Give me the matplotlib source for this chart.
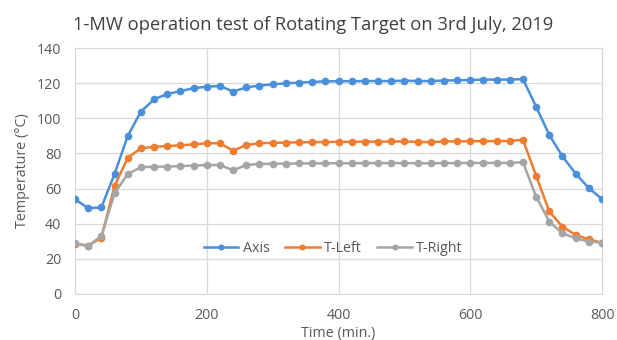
import numpy as np
import matplotlib.pyplot as plt

plt.rcParams['font.family'] = ['Open Sans', 'DejaVu Sans']

# time every 20 min, 0..800
time_min = np.arange(0, 801, 20)

axis_temp = [53.9, 48.8, 49.3, 68.3, 89.9, 103.8, 110.8, 113.8, 115.5, 117.1,
             118.0, 118.4, 115.2, 117.6, 118.6, 119.3, 119.9, 120.3, 120.7, 121.0,
             121.1, 121.1, 121.2, 121.2, 121.2, 121.4, 121.2, 121.2, 121.5, 121.6,
             121.8, 122.0, 122.0, 122.0, 122.3, 106.6, 90.5, 78.3, 68.5, 60.3, 54.0]

t_left = [28.5, 27.5, 32.0, 61.5, 77.5, 82.9, 83.8, 84.2, 84.6, 85.2,
          85.8, 85.8, 81.6, 84.8, 85.8, 86.0, 86.2, 86.3, 86.4, 86.5,
          86.6, 86.6, 86.7, 86.7, 86.8, 86.8, 86.6, 86.4, 86.8, 86.9,
          86.9, 87.0, 87.0, 87.1, 87.8, 67.2, 47.0, 38.3, 33.6, 31.1, 29.2]

t_right = [28.8, 27.5, 33.0, 57.3, 68.3, 72.1, 72.5, 72.5, 72.8, 73.1,
           73.4, 73.4, 70.4, 73.4, 74.0, 74.1, 74.2, 74.3, 74.3, 74.4,
           74.4, 74.4, 74.5, 74.5, 74.5, 74.5, 74.4, 74.4, 74.5, 74.5,
           74.6, 74.6, 74.6, 74.6, 75.0, 55.4, 41.2, 34.5, 31.7, 29.8, 29.2]

series = [("Axis", axis_temp, "#4a8fd9"),
          ("T-Left", t_left, "#ed7d31"),
          ("T-Right", t_right, "#a5a5a5")]

fig = plt.figure(figsize=(6.17, 3.40), dpi=100)
ax = fig.add_axes([0.1216, 0.1353, 0.8541, 0.7235])

for name, vals, col in series:
    ax.plot(time_min, vals, '-o', color=col, lw=1.8, ms=5.5, label=name,
            markeredgewidth=0, zorder=3)

ax.set_xlim(0, 800)
ax.set_ylim(0, 140)
ax.set_xticks(np.arange(0, 801, 200))
ax.set_yticks(np.arange(0, 141, 20))
ax.grid(True, color="#d9d9d9", lw=0.9)
ax.set_axisbelow(True)
ax.tick_params(length=0, labelsize=10.3, colors="#595959", pad=10)
for sp in ax.spines.values():
    sp.set_color("#d9d9d9")

ax.set_xlabel("Time (min.)", fontsize=10.3, color="#595959", labelpad=2)
ax.set_ylabel("Temperature (°C)", fontsize=10.3, color="#595959", labelpad=5)
fig.text(0.507, 0.925, "1-MW operation test of Rotating Target on 3rd July, 2019",
         fontsize=13.2, color="#404040", ha="center", va="center")

leg = ax.legend(loc="center", bbox_to_anchor=(0.49, 0.185), ncol=3, frameon=False,
                fontsize=10.3, handlelength=2.4, columnspacing=1.1, handletextpad=0.3,
                markerscale=0.8)
for t in leg.get_texts():
    t.set_color("#595959")

fig.savefig("out.png", dpi=100)
